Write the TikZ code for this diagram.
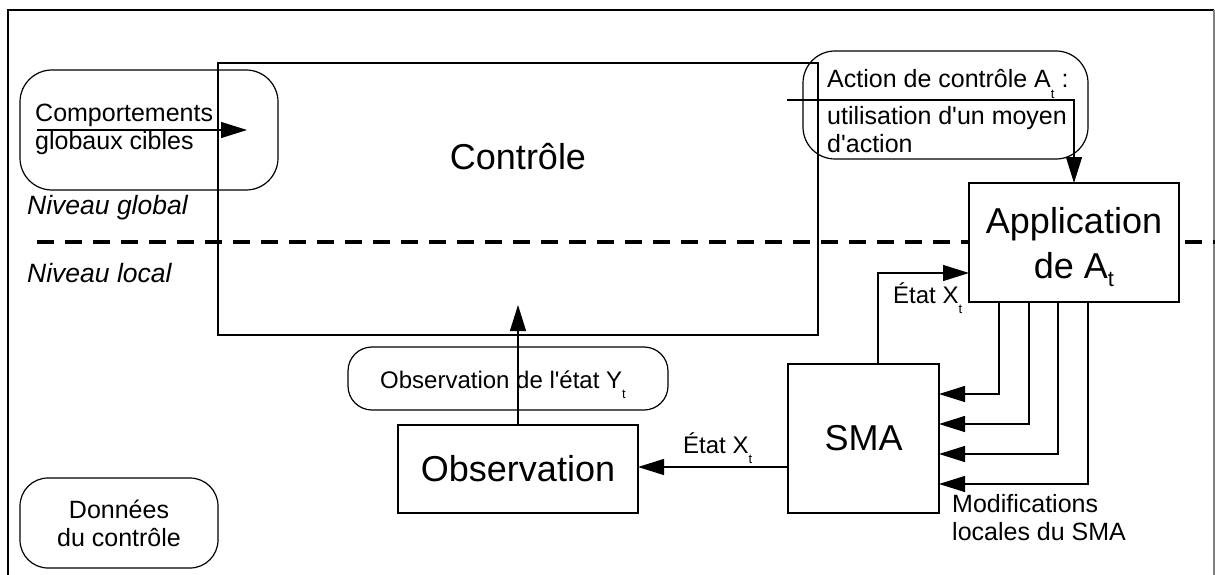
\documentclass[tikz,border=0pt]{standalone}
\usepackage{fontspec}
\setmainfont{Liberation Sans}
\usetikzlibrary{arrows.meta}
\newcommand\lowt[2]{\smash{\raisebox{-#2pt}{\fontsize{#1}{#1}\selectfont t}}}
\newcommand\apo{\textquotesingle}
\begin{document}
\begin{tikzpicture}[x=1pt,y=-1pt,
  rect/.style={draw, line width=1.2pt, inner sep=0pt, outer sep=0pt},
  pill/.style={rect, rounded corners=#1},
  big/.style={font=\fontsize{36}{45}\selectfont},
  med/.style={font=\fontsize{25}{28}\selectfont},
  sml/.style={font=\fontsize{24}{28}\selectfont},
  niv/.style={font=\fontsize{26.5}{30}\selectfont\itshape, inner sep=0pt},
  arr/.style={line width=1.2pt, -{Triangle[length=26pt,width=16pt]}},
  frame/.style={line width=1.2pt}
]
\useasboundingbox (0,0) rectangle (1215,575);
% outer frame
\draw[frame] (8,575) -- (8,10) -- (1214,10);
\draw[frame, gray] (1214,10) -- (1214,575);

% level separator
\coordinate (dl) at (37,242);
\coordinate (dr) at (1215,242);
\draw[line width=4pt, dash pattern=on 17pt off 11pt] (dl) -- (dr);
\node[niv, anchor=west] (nglob) at (27,208) {Niveau global};
\node[niv, anchor=west] (nloc) at (27,273) {Niveau local};

% Controle
\node[rect, minimum width=600pt, minimum height=272pt] (ctrl) at (518,199) {};
\node[big] (ctrlt) at (518,157) {Contrôle};

% Comportements
\node[pill=32pt, minimum width=258pt, minimum height=120pt] (comp) at (149,130) {};
\node[med, align=left, anchor=west, inner sep=0pt] (compt) at (35,129) {Comportements\\globaux cibles};
\coordinate (compin) at (37,130);
\coordinate (ctrlin) at (247,130);
\draw[arr] (compin) -- (ctrlin);

% Action
\node[pill=32pt, minimum width=285pt, minimum height=108pt] (act) at (945.5,105) {};
\node[med, align=left, anchor=west, inner sep=0pt] (actt) at (827,111) {Action de contrôle A\lowt{13}{11} :\\[9pt]utilisation d\apo un moyen\\d\apo action};

% Application
\node[rect, fill=white, minimum width=210pt, minimum height=119pt] (app) at (1074,242.5) {};
\node[big, align=center] (appt) at (1074,243) {Application\\de A\lowt{22}{8}};
\coordinate (ctrlout) at (787,100);
\draw[arr] (ctrlout) -| (app.north);

% SMA
\node[rect, minimum width=151pt, minimum height=149pt, big] (sma) at (863.5,438.5) {SMA};

% Observation
\node[rect, minimum width=240pt, minimum height=88pt, big] (obs) at (518,469) {Observation};
\node[pill=24pt, minimum width=320pt, minimum height=63pt] (obsp) at (508,378.5) {};
\node[sml] (obspt) at (503,380) {Observation de l\apo état Y\lowt{13}{10}};
\coordinate (ctrlobs) at (518,305);
\draw[arr] (obs.north) -- (ctrlobs);

% Donnees
\node[pill=28pt, minimum width=198pt, minimum height=90pt, med, align=center] (don) at (119,523) {Données\\du contrôle};

% SMA -> Observation
\coordinate (smaobs) at (788,467);
\draw[arr] (smaobs) -- (smaobs -| obs.east);
\node[sml, anchor=base west, inner sep=0pt] (ex2) at (683,453) {État X\lowt{13}{10}};

% SMA -> Application
\coordinate (smatop) at (878,364);
\coordinate (appin) at (969,273);
\draw[arr] (smatop) |- (appin);
\node[sml, anchor=base west, inner sep=0pt] (ex1) at (893,303) {État X\lowt{13}{10}};

% Application -> SMA
\foreach \a/\b in {30/30, 60/60, 89/90, 119/120}
  \draw[arr] ([xshift=\a pt]app.south west) |- ([yshift=-\b pt]sma.north east);
\node[med, align=left, anchor=west, inner sep=0pt] (modif) at (952,518) {Modifications\\locales du SMA};
\end{tikzpicture}
\end{document}
